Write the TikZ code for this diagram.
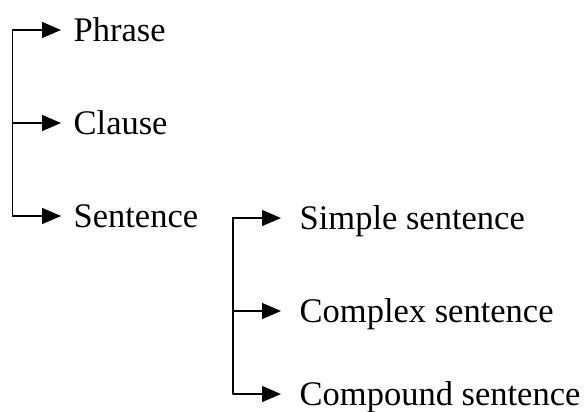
\documentclass[tikz,border=0pt]{standalone}
\usepackage{fontspec}
\setmainfont{Liberation Serif}
\usetikzlibrary{arrows.meta}
\begin{document}
\begin{tikzpicture}[x=1pt,y=-1pt,line width=1.3pt,line cap=round,
		item/.style={anchor=west,inner sep=0pt,text height=23pt,text depth=0pt,font=\fontsize{34.5}{40}\selectfont},
		branch/.style={arrows={-Triangle[length=19pt,width=16pt]},shorten >=#1}]
	\useasboundingbox (0,0) rectangle (584,412);
	\coordinate (trunk1) at (12.7,0);
	\coordinate (trunk2) at (233,0);
	\node[item] (phrase) at (73,30) {Phrase};
	\node[item] (clause) at (73,123) {Clause};
	\node[item] (sentence) at (73,216) {Sentence};
	\node[item] (simple) at (299,218) {Simple sentence};
	\node[item] (complex) at (299,311) {Complex sentence};
	\node[item] (compound) at (299,394) {Compound sentence};
	\draw[branch=12pt] (sentence.west -| trunk1) |- (phrase.west);
	\draw[branch=12pt] (clause.west -| trunk1) -- (clause.west);
	\draw[branch=12pt] (sentence.west -| trunk1) -- (sentence.west);
	\draw[branch=18pt] (compound.west -| trunk2) |- (simple.west);
	\draw[branch=18pt] (complex.west -| trunk2) -- (complex.west);
	\draw[branch=18pt] (compound.west -| trunk2) -- (compound.west);
\end{tikzpicture}
\end{document}
